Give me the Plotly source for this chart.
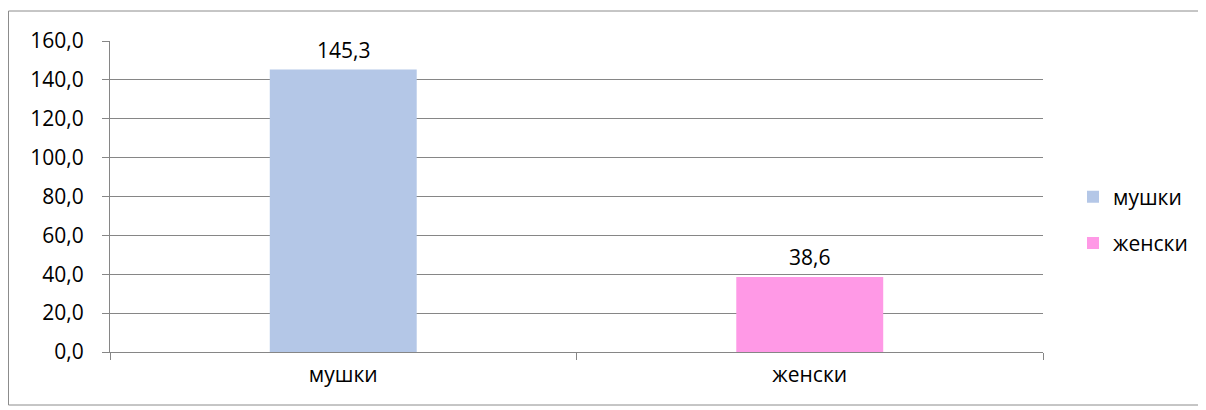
import plotly.graph_objects as go

categories = ["мушки", "женски"]
values = [145.3, 38.6]
colors = ["#b4c7e7", "#ff99e6"]
y_ticks = [0, 20, 40, 60, 80, 100, 120, 140, 160]

FONT = "Open Sans"
FS = 21

# the page body has an 8px margin, so the figure starts at page (8, 8)
W, H = 1198, 402
L, R, T, B = 102, 163, 33, 58
pw, ph = W - L - R, H - T - B

fig = go.Figure()
for c, v, col in zip(categories, values, colors):
    fig.add_trace(go.Bar(
        x=[c], y=[v], name=c, marker=dict(color=col, line=dict(width=0)),
        legendgroup=c, showlegend=True, hoverinfo="skip",
    ))
    fig.add_annotation(
        x=c, y=v, text=f"{v:.1f}".replace(".", ","), showarrow=False,
        yanchor="middle", yshift=20, font=dict(family=FONT, size=FS, color="#000"),
    )

def px2x(p):
    return (p - L) / pw

def px2y(p):
    return (H - B - p) / ph

# outer chart border
fig.add_shape(type="rect", xref="paper", yref="paper",
              x0=px2x(0.5), x1=px2x(1196), y0=px2y(397), y1=px2y(3),
              line=dict(color="#8c8c8c", width=1), layer="below")

fig.update_layout(
    width=W, height=H,
    margin=dict(l=L, r=R, t=T, b=B, pad=0),
    paper_bgcolor="white", plot_bgcolor="white",
    barmode="overlay", bargap=0.685,
    separators=", ",
    font=dict(family=FONT, size=FS, color="#000"),
    legend=dict(x=px2x(1065), xanchor="left", y=px2y(212), yanchor="middle",
                traceorder="grouped", tracegroupgap=16,
                font=dict(family=FONT, size=FS, color="#000"),
                bgcolor="rgba(0,0,0,0)", itemwidth=30),
    showlegend=True,
)
fig.update_xaxes(
    type="category", categoryorder="array", categoryarray=categories,
    showline=True, linecolor="#868686", linewidth=1,
    ticks="outside", tickson="boundaries", ticklen=7, tickcolor="#868686",
    showgrid=False, ticklabelstandoff=4,
)
fig.update_yaxes(
    range=[0, 160], tickvals=y_ticks, tickformat=".1f",
    showline=True, linecolor="#868686", linewidth=1,
    ticks="outside", ticklen=7, tickcolor="#868686",
    showgrid=True, gridcolor="#868686", gridwidth=1, zeroline=False,
    ticklabelstandoff=14,
)

fig.write_html("out.html")
